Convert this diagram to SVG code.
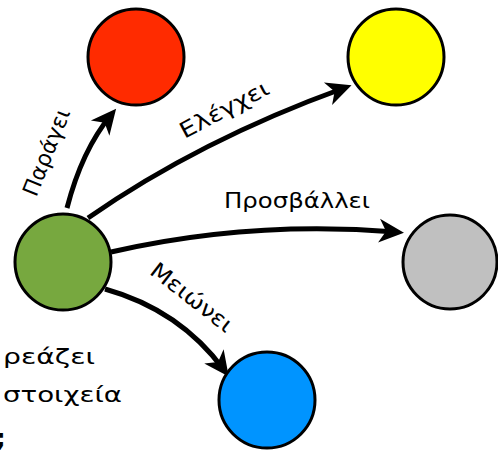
<svg xmlns="http://www.w3.org/2000/svg" width="498" height="450" viewBox="0 0 498 450">
<style>
.n{stroke:#000;stroke-width:3}
.e{fill:none;stroke:#000;stroke-width:5;marker-end:url(#ah)}
.t{font-family:"DejaVu Sans","Noto Sans",sans-serif;font-size:22px;fill:#000}
</style>
<defs>
<marker id="ah" markerUnits="userSpaceOnUse" viewBox="-20 -12 30 24" markerWidth="30" markerHeight="24" refX="0" refY="0" orient="auto" overflow="visible">
<path d="M8,0 L-17,-12 L-10,0 L-17,12 Z" fill="#000"/>
</marker>
</defs>
<rect width="498" height="450" fill="#fff"/>
<g id="connectors">
<path class="e" d="M67,208 Q82,150 111,115"/>
<path class="e" d="M88,218 Q200,140 344,88"/>
<path class="e" d="M111,252 Q250,220 396,232"/>
<path class="e" d="M105,289 Q180,310 224,370"/>
</g>
<g id="labels">
<text class="t" transform="translate(46,152) rotate(-68)" text-anchor="middle" dy="8" textLength="92" lengthAdjust="spacingAndGlyphs">Παράγει</text>
<text class="t" transform="translate(224,109) rotate(-28)" text-anchor="middle" dy="8" textLength="98" lengthAdjust="spacingAndGlyphs">Ελέγχει</text>
<text class="t" x="224" y="208" textLength="146" lengthAdjust="spacingAndGlyphs">Προσβάλλει</text>
<text class="t" transform="translate(192,297) rotate(38)" text-anchor="middle" dy="8" textLength="98" lengthAdjust="spacingAndGlyphs">Μειώνει</text>
</g>
<g id="node-green"><circle class="n" cx="63" cy="262" r="48" fill="#77a83f"/></g>
<g id="node-red"><circle class="n" cx="136" cy="57" r="48" fill="#ff2b00"/></g>
<g id="node-yellow"><circle class="n" cx="396" cy="57" r="48" fill="#ffff00"/></g>
<g id="node-gray"><circle class="n" cx="450" cy="262" r="47" fill="#c0c0c0"/></g>
<g id="node-blue"><circle class="n" cx="267" cy="400" r="48" fill="#0094ff"/></g>
<g id="text-left">
<text class="t" x="3" y="364" textLength="92" lengthAdjust="spacingAndGlyphs">ρεάζει</text>
<text class="t" x="3" y="402" textLength="119" lengthAdjust="spacingAndGlyphs">στοιχεία</text>
<text x="-4" y="447" font-family="DejaVu Sans,sans-serif" font-size="24" font-weight="bold">;</text>
</g>
</svg>
